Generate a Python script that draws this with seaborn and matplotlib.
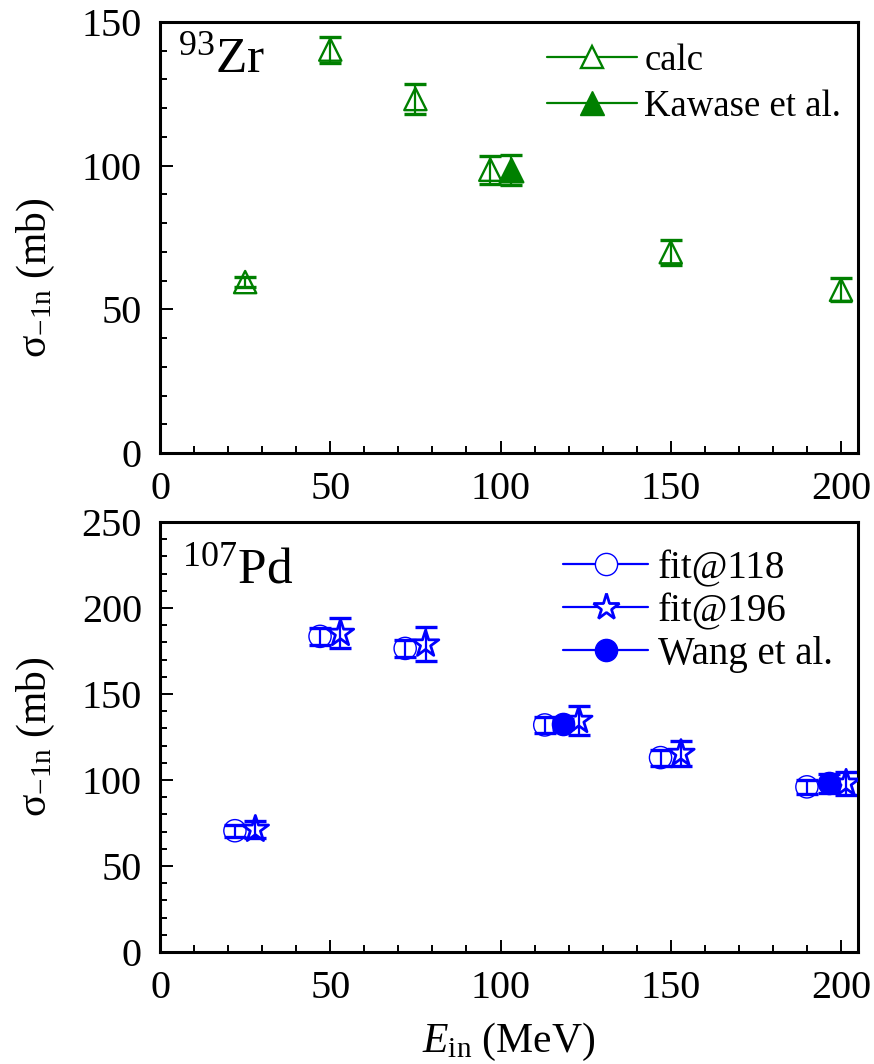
import numpy as np
import pandas as pd
import matplotlib
matplotlib.use("Agg")
import matplotlib.pyplot as plt
import seaborn as sns
from matplotlib.lines import Line2D
from matplotlib.ticker import MultipleLocator

# ---------------- data ----------------
# 93Zr panel
zr_calc_E = [25, 50, 75, 97, 150, 200]
zr_calc_sig = [59.5, 140.4, 123.2, 98.6, 69.9, 56.8]
zr_calc_err = [1.6, 4.5, 5.1, 4.8, 4.3, 4.0]
zr_exp_E = [103]
zr_exp_sig = [98.6]
zr_exp_err = [5.2]

# 107Pd panel
pd_f118_E = [22, 47, 72, 113, 147, 190]
pd_f118_sig = [70.5, 183.5, 176.5, 132.0, 113.0, 96.0]
pd_f118_err = [3.5, 5.0, 5.0, 4.5, 4.6, 4.0]
pd_f196_E = [28, 53, 78, 123, 153, 201.5]
pd_f196_sig = [71.3, 185.2, 179.0, 134.6, 115.4, 98.1]
pd_f196_err = [5.1, 8.7, 9.7, 8.4, 7.5, 6.8]
pd_exp_E = [118.5, 196.5]
pd_exp_sig = [132.5, 98.0]
pd_exp_err = [3.0, 5.5]

GREEN = "#008000"
BLUE = "#0000ff"

sns.set_theme(style="ticks")
plt.rcParams["font.family"] = ["Liberation Serif", "DejaVu Serif"]
plt.rcParams["mathtext.fontset"] = "custom"
plt.rcParams["mathtext.rm"] = "Liberation Serif"
plt.rcParams["mathtext.it"] = "Liberation Serif:italic"
plt.rcParams["mathtext.bf"] = "Liberation Serif:bold"
for k in ["text.color", "axes.labelcolor", "xtick.color", "ytick.color",
          "axes.edgecolor"]:
    plt.rcParams[k] = "black"

FS = 29
ANN = 37

fig = plt.figure(figsize=(8.74, 10.64), dpi=100)
ax1 = fig.add_axes([0.1831, 0.5742, 0.7986, 0.4051])
ax2 = fig.add_axes([0.1831, 0.1053, 0.7986, 0.4041])


def style_axis(ax, ymax, label_y):
    ax.set_xlim(0, 205)
    ax.set_ylim(0, ymax)
    ax.xaxis.set_major_locator(MultipleLocator(50))
    ax.xaxis.set_minor_locator(MultipleLocator(10))
    ax.yaxis.set_major_locator(MultipleLocator(50))
    ax.yaxis.set_minor_locator(MultipleLocator(10))
    ax.tick_params(which="both", direction="in", top=False, right=False,
                   labelsize=FS, width=1.4, color="black", labelcolor="black",
                   pad=13)
    ax.tick_params(which="major", length=9)
    ax.tick_params(which="minor", length=5)
    for s in ax.spines.values():
        s.set_linewidth(2.2)
        s.set_color("black")
        s.set_visible(True)
    ax.set_ylabel("σ$_{\\mathrm{-1n}}$ (mb)", fontsize=FS + 1)
    ax.yaxis.set_label_coords(-0.148, label_y)
    ax.set_xlabel("")


def draw(ax, E, sig, err, color, marker, ms, filled, mew, capw):
    df = pd.DataFrame({"E": E, "sig": sig})
    ax.errorbar(df["E"], df["sig"], yerr=err, fmt="none", ecolor=color,
                elinewidth=1.6, capsize=8, capthick=capw, zorder=2)
    if filled:
        sns.scatterplot(data=df, x="E", y="sig", ax=ax, marker=marker,
                        s=ms ** 2, color=color, edgecolor=color,
                        linewidth=mew, zorder=3, legend=False)
    else:
        sns.scatterplot(data=df, x="E", y="sig", ax=ax, marker=marker,
                        s=ms ** 2, color=color, facecolor="none",
                        edgecolor=color, linewidth=mew, zorder=3,
                        legend=False)


# ---- top panel: 93Zr ----
draw(ax1, zr_calc_E, zr_calc_sig, zr_calc_err, GREEN, "^", 16, False, 1.7, 2.4)
draw(ax1, zr_exp_E, zr_exp_sig, zr_exp_err, GREEN, "^", 17, True, 1.7, 2.4)
style_axis(ax1, 150, 0.407)
ax1.text(0.026, 0.884, "$^{93}$Zr", transform=ax1.transAxes, fontsize=ANN,
         ha="left", va="baseline")
h1 = [Line2D([], [], color=GREEN, lw=1.6, marker="^", markersize=16,
             markerfacecolor="white", markeredgecolor=GREEN, markeredgewidth=1.7),
      Line2D([], [], color=GREEN, lw=1.6, marker="^", markersize=17,
             markerfacecolor=GREEN, markeredgecolor=GREEN)]
ax1.legend(h1, ["calc", "Kawase et al."], loc="upper left",
           bbox_to_anchor=(0.554, 0.95), frameon=False, fontsize=26.5,
           handlelength=2.45, handletextpad=0.2, labelspacing=0.3,
           borderpad=0, borderaxespad=0)

# ---- bottom panel: 107Pd ----
draw(ax2, pd_f118_E, pd_f118_sig, pd_f118_err, BLUE, "o", 16, False, 1.0, 2.4)
draw(ax2, pd_exp_E, pd_exp_sig, pd_exp_err, BLUE, "o", 16, True, 1.0, 2.4)
draw(ax2, pd_f196_E, pd_f196_sig, pd_f196_err, BLUE, "*", 20, False, 2.0, 2.4)
style_axis(ax2, 250, 0.5)
ax2.set_xlabel("$E_{\\mathrm{in}}$ (MeV)", fontsize=FS + 1, labelpad=10)
ax2.text(0.0315, 0.858, "$^{107}$Pd", transform=ax2.transAxes, fontsize=ANN,
         ha="left", va="baseline")
h2 = [Line2D([], [], color=BLUE, lw=1.6, marker="o", markersize=16,
             markerfacecolor="white", markeredgecolor=BLUE, markeredgewidth=1.0),
      Line2D([], [], color=BLUE, lw=1.6, marker="*", markersize=20,
             markerfacecolor="white", markeredgecolor=BLUE, markeredgewidth=2.0),
      Line2D([], [], color=BLUE, lw=1.6, marker="o", markersize=16,
             markerfacecolor=BLUE, markeredgecolor=BLUE)]
ax2.legend(h2, ["fit@118", "fit@196", "Wang et al."], loc="upper left",
           bbox_to_anchor=(0.577, 0.935), frameon=False, fontsize=28,
           handlelength=2.2, handletextpad=0.25, labelspacing=0.15,
           borderpad=0, borderaxespad=0)

fig.savefig("out.png", dpi=100)
